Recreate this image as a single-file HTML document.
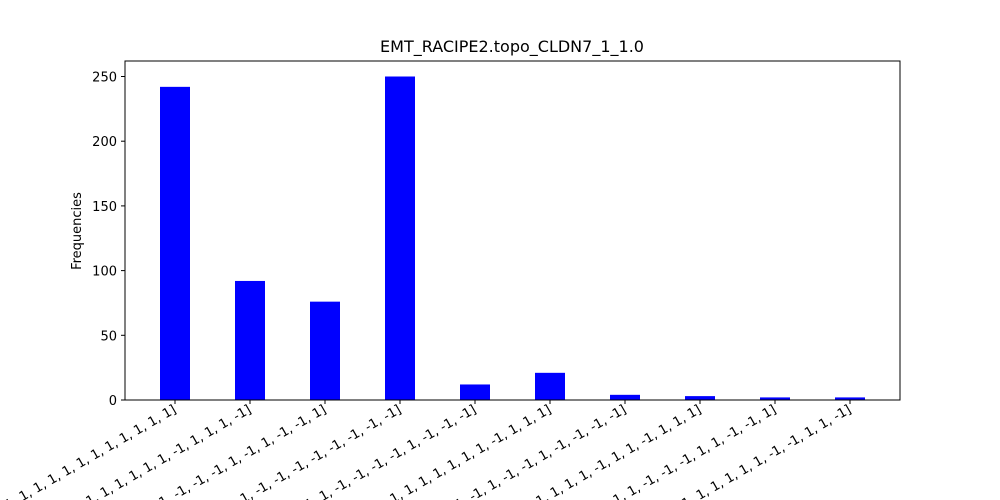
<!DOCTYPE html>
<html><head><meta charset="utf-8"><style>
html,body{margin:0;background:#fff;overflow:hidden;width:1000px;height:500px;}
svg{display:block;overflow:hidden;}
svg text{font-family:"DejaVu Sans","Liberation Sans",sans-serif;}
</style></head><body>
<svg id="chart" width="1000" height="500" viewBox="0 0 1000 500" overflow="hidden" xmlns="http://www.w3.org/2000/svg">
<rect width="1000" height="500" fill="#fff"/>
<text x="512" y="52" font-size="16" text-anchor="middle">EMT_RACIPE2.topo_CLDN7_1_1.0</text>
<text transform="translate(81,231) rotate(-90)" font-size="13" text-anchor="middle">Frequencies</text>
<g id="bars"></g><g id="yticks"></g><g id="xticks"></g>
<rect x="125" y="61" width="775" height="339" fill="none" stroke="#000" stroke-width="1"/>
</svg>
<script>
const categories=["[1, 1, 1, 1, 1, 1, 1, 1, 1, 1, 1, 1, 1, 1, 1, 1]","[1, 1, 1, 1, 1, 1, 1, 1, 1, -1, 1, 1, 1, -1]","[-1, -1, -1, -1, -1, -1, -1, 1, -1, 1, -1, -1, 1]","[-1, -1, -1, -1, -1, -1, -1, -1, -1, -1, -1, -1, -1]","[1, 1, 1, -1, -1, -1, -1, 1, -1, -1, -1]","[1, 1, 1, 1, 1, 1, 1, 1, 1, 1, -1, 1, 1, 1]","[-1, -1, 1, -1, 1, -1, -1, 1, -1, -1, -1, -1]","[1, 1, 1, 1, 1, 1, -1, 1, 1, -1, 1, 1, 1]","[1, 1, 1, -1, -1, -1, 1, 1, -1, -1, 1]","[1, 1, 1, 1, 1, 1, -1, -1, 1, 1, -1]"];
const values=[242,92,76,250,12,21,4,3,2,2];
const yTicks=[0,50,100,150,200,250];
const NS="http://www.w3.org/2000/svg";
const y=v=>400-v*1.294;
const x=i=>175+75*i;
const bars=document.getElementById('bars'),yt=document.getElementById('yticks'),xt=document.getElementById('xticks');
values.forEach((v,i)=>{
 const r=document.createElementNS(NS,'rect');
 r.setAttribute('x',x(i)-15);r.setAttribute('width',30);
 r.setAttribute('y',y(v));r.setAttribute('height',400-y(v));r.setAttribute('fill','#0000ff');
 
 
 bars.appendChild(r);
 const l=document.createElementNS(NS,'line');
 l.setAttribute('x1',x(i));l.setAttribute('x2',x(i));l.setAttribute('y1',400);l.setAttribute('y2',404);l.setAttribute('stroke','#000');
 
 
 xt.appendChild(l);
 const t=document.createElementNS(NS,'text');
 t.setAttribute('transform','translate('+(x(i)+2)+',412) rotate(-30)');
 t.setAttribute('text-anchor','end');t.setAttribute('font-size','13');
 t.textContent=categories[i];
 
 
 xt.appendChild(t);
});
yTicks.forEach(v=>{
 const l=document.createElementNS(NS,'line');
 l.setAttribute('x1',121);l.setAttribute('x2',125);l.setAttribute('y1',y(v));l.setAttribute('y2',y(v));l.setAttribute('stroke','#000');
 
 
 yt.appendChild(l);
 const t=document.createElementNS(NS,'text');
 t.setAttribute('x',117);t.setAttribute('y',y(v)+5);t.setAttribute('text-anchor','end');t.setAttribute('font-size','13');
 t.textContent=v;
 
 
 yt.appendChild(t);
});
</script>
</body></html>
